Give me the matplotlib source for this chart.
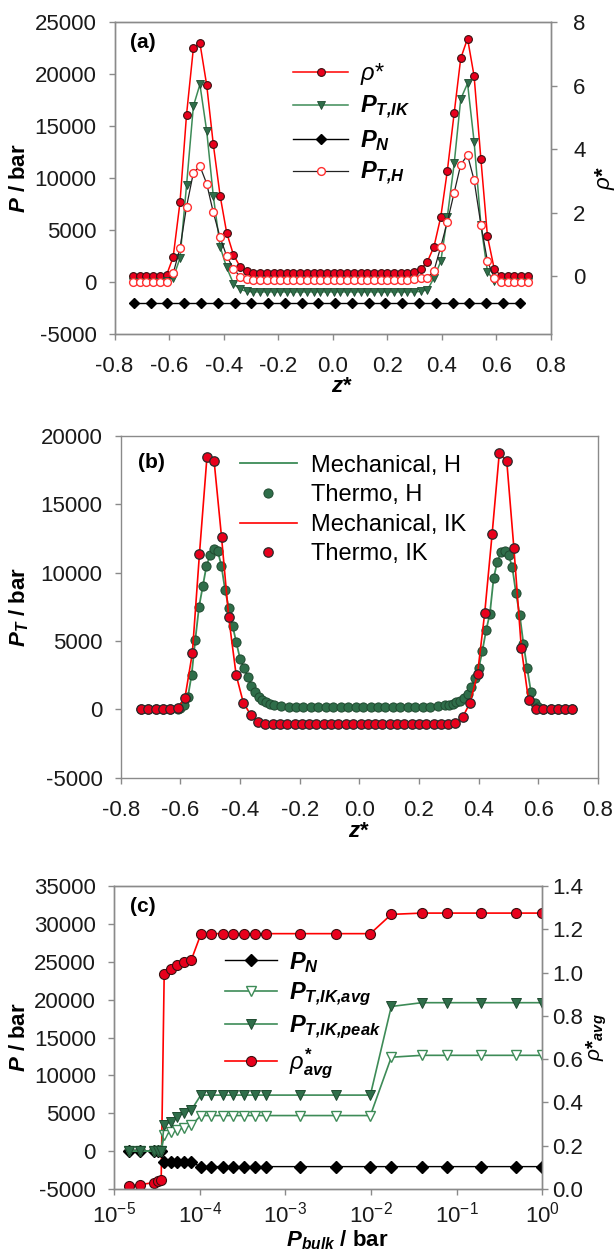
import matplotlib
matplotlib.use("Agg")
import matplotlib.pyplot as plt
from matplotlib.ticker import FixedLocator, FormatStrFormatter, NullLocator

plt.rcParams['font.family'] = ['Liberation Sans', 'DejaVu Sans']
plt.rcParams['axes.unicode_minus'] = False
plt.rcParams['mathtext.fontset'] = 'custom'
plt.rcParams['mathtext.rm'] = 'Liberation Sans'
plt.rcParams['mathtext.it'] = 'Liberation Sans:italic'
plt.rcParams['mathtext.bf'] = 'Liberation Sans:bold'
plt.rcParams['mathtext.bfit'] = 'Liberation Sans:italic:bold'
plt.rcParams['mathtext.sf'] = 'Liberation Sans'

# ---- panel (a) data: profiles across the slit ----
z_grid = [-0.732, -0.707, -0.683, -0.658, -0.634, -0.609, -0.585, -0.560, -0.536, -0.511,
          -0.487, -0.462, -0.438, -0.413, -0.389, -0.364, -0.340, -0.315, -0.291, -0.266,
          -0.242, -0.217, -0.193, -0.168, -0.144, -0.119, -0.095, -0.070, -0.046, -0.021,
          0.004, 0.028, 0.053, 0.077, 0.102, 0.126, 0.151, 0.175, 0.200, 0.224,
          0.249, 0.273, 0.298, 0.322, 0.347, 0.371, 0.396, 0.420, 0.445, 0.469,
          0.494, 0.518, 0.543, 0.567, 0.592, 0.616, 0.641, 0.665, 0.690, 0.714]

rho_a = [0.02, 0.02, 0.02, 0.02, 0.02, 0.05, 0.61, 2.33, 5.09, 7.17,
         7.34, 6.01, 4.16, 2.54, 1.38, 0.68, 0.31, 0.18, 0.12, 0.10,
         0.10, 0.10, 0.10, 0.10, 0.10, 0.10, 0.10, 0.10, 0.10, 0.10,
         0.10, 0.10, 0.10, 0.10, 0.10, 0.10, 0.10, 0.10, 0.10, 0.10,
         0.10, 0.11, 0.15, 0.22, 0.47, 0.94, 1.88, 3.33, 5.14, 6.86,
         7.48, 6.30, 3.68, 1.26, 0.23, 0.03, 0.02, 0.02, 0.02, 0.02]

pt_ik_a = [0, 0, 0, 0, 0, 100, 400, 2300, 9300, 16900,
           19000, 14500, 8300, 3400, 1400, -150, -700, -900, -950, -950,
           -950, -950, -950, -950, -950, -950, -950, -950, -950, -950,
           -950, -950, -950, -950, -950, -950, -950, -950, -950, -950,
           -950, -950, -950, -900, -750, 400, 2000, 6300, 11400, 17600,
           19100, 13500, 5500, 1000, 100, 0, 0, 0, 0, 0]

pt_h_a = [0, 0, 0, 0, 0, 50, 830, 3250, 7250, 10500,
          11150, 9450, 6700, 4300, 2500, 1300, 500, 250, 200, 200,
          200, 200, 200, 200, 200, 200, 200, 200, 200, 200,
          200, 200, 200, 200, 200, 200, 200, 200, 200, 200,
          200, 200, 250, 400, 400, 1100, 3400, 5800, 8600, 11300,
          12200, 9800, 5500, 2000, 400, 0, 0, 0, 0, 0]

z_n = [-0.729, -0.668, -0.606, -0.545, -0.483, -0.422, -0.360, -0.299, -0.237, -0.176,
       -0.114, -0.053, 0.009, 0.070, 0.132, 0.193, 0.255, 0.316, 0.378, 0.439,
       0.501, 0.562, 0.624, 0.685]
pn_a = [-2050, -2050, -2050, -2050, -2050, -2050, -2050, -2050, -2050, -2050,
        -2050, -2050, -2050, -2050, -2050, -2050, -2050, -2050, -2050, -2050,
        -2050, -2050, -2050, -2050]

# ---- panel (b) data: mechanical vs thermodynamic route ----
ik_b = [0, 0, 0, 0, 0, 80, 810, 4100, 11400, 18440,
        18170, 12590, 6730, 2510, 490, -410, -900, -1070, -1100, -1100,
        -1100, -1100, -1100, -1100, -1100, -1100, -1100, -1100, -1100, -1100,
        -1100, -1100, -1100, -1100, -1100, -1100, -1100, -1100, -1100, -1100,
        -1100, -1100, -1100, -1000, -540, 490, 2590, 7020, 12830, 18730,
        18170, 11780, 4460, 680, 0, 0, 0, 0, 0, 0]

z_h = [-0.732, -0.707, -0.683, -0.658, -0.634, -0.609,
       -0.6000, -0.5875, -0.5750, -0.5625, -0.5500, -0.5375, -0.5250, -0.5125, -0.5000, -0.4875,
       -0.4750, -0.4625, -0.4500, -0.4375, -0.4250, -0.4125, -0.4000, -0.3875, -0.3750, -0.3625,
       -0.3500, -0.3375, -0.3250, -0.3125, -0.3000, -0.2875,
       -0.2625, -0.2375, -0.2125, -0.1875, -0.1625, -0.1375, -0.1125, -0.0875, -0.0625, -0.0375,
       -0.0125, 0.0125, 0.0375, 0.0625, 0.0875, 0.1125, 0.1375, 0.1625, 0.1875, 0.2125,
       0.2375, 0.2625,
       0.2875, 0.3000, 0.3125, 0.3250, 0.3375, 0.3500, 0.3625, 0.3750, 0.3875, 0.4000,
       0.4125, 0.4250, 0.4375, 0.4500, 0.4625, 0.4750, 0.4875, 0.5000, 0.5125, 0.5250,
       0.5375, 0.5500, 0.5625, 0.5750, 0.5875, 0.6000,
       0.616, 0.641, 0.665, 0.690, 0.714]
h_b = [0, 0, 0, 0, 0, 0,
       100, 350, 900, 2500, 5100, 7500, 9000, 10500, 11300, 11700,
       11600, 10500, 8700, 7400, 6100, 4900, 3700, 3000, 2400, 1700,
       1250, 900, 700, 520, 400, 320,
       260, 210, 180, 160, 150, 150, 150, 150, 150, 150,
       150, 150, 150, 150, 150, 150, 150, 150, 160, 180,
       210, 260,
       300, 350, 420, 520, 600, 800, 1150, 1650, 2300, 3000,
       4300, 5800, 7000, 9600, 10800, 11500, 11550, 11300, 10400, 8500,
       6900, 4800, 3000, 1300, 500, 150,
       0, 0, 0, 0, 0]

# ---- panel (c) data: vs bulk pressure ----
p_bulk = [1.5e-5, 2.0e-5, 2.95e-5, 3.25e-5, 3.55e-5, 3.85e-5, 4.6e-5, 5.5e-5, 6.5e-5, 8.0e-5,
          1.03e-4, 1.37e-4, 1.85e-4, 2.47e-4, 3.3e-4, 4.4e-4, 5.9e-4, 1.47e-3, 3.9e-3, 9.8e-3,
          1.72e-2, 3.9e-2, 7.6e-2, 0.19, 0.49, 1.0]
pn_c = [0, 0, 0, 0, 0, -1450, -1460, -1470, -1470, -1480,
        -2040, -2040, -2040, -2040, -2040, -2040, -2040, -2040, -2040, -2040,
        -2040, -2040, -2040, -2040, -2040, -2040]
pavg_c = [0, 0, 0, 0, 0, 2100, 2500, 2800, 3100, 3400,
          4700, 4700, 4700, 4700, 4700, 4700, 4700, 4700, 4700, 4700,
          12400, 12650, 12650, 12650, 12650, 12650]
ppeak_c = [0, 0, 0, 0, 0, 3450, 3900, 4550, 5050, 5450,
           7400, 7400, 7400, 7400, 7400, 7400, 7400, 7400, 7400, 7400,
           19100, 19600, 19600, 19600, 19600, 19600]
rho_c = [0.015, 0.02, 0.03, 0.035, 0.04, 0.995, 1.015, 1.034, 1.049, 1.06,
         1.177, 1.18, 1.18, 1.18, 1.18, 1.18, 1.18, 1.18, 1.18, 1.18,
         1.269, 1.275, 1.275, 1.275, 1.275, 1.275]

RED = '#ff0000'
RED_FACE = '#e8001c'
GREEN_LINE = '#3d8b57'
GREEN_FACE = '#2f6e4a'
GREEN_EDGE = '#1f4a30'
SPINE = '#8a8a8a'
TICKFS = 16


def style(ax, right_ticks=False):
    for s in ax.spines.values():
        s.set_color(SPINE)
        s.set_linewidth(1.0)
    ax.tick_params(axis='both', direction='out', length=4, width=1, color=SPINE,
                   labelsize=TICKFS, labelcolor='#1a1a1a', pad=9)
    ax.tick_params(axis='x', pad=12)
    ax.tick_params(top=False, right=right_ticks)


fig = plt.figure(figsize=(6.15, 12.52), dpi=100)

# ================= (a) =================
ax = fig.add_axes([0.1862, 0.7332, 0.7098, 0.2492])
ax2 = ax.twinx()
ax.set_zorder(ax2.get_zorder() + 1)
ax.patch.set_visible(False)

h_rho, = ax2.plot(z_grid, rho_a, '-o', color=RED, lw=1.1, ms=5.6,
                  mfc=RED_FACE, mec='#3a1010', mew=0.8, label=r'$\rho$*')
h_ik, = ax.plot(z_grid, pt_ik_a, '-v', color=GREEN_LINE, lw=1.1, ms=5.8,
                mfc=GREEN_FACE, mec=GREEN_EDGE, mew=0.6, label=r'$\mathbfit{P}_{\mathbfit{T{,}IK}}$')
h_n, = ax.plot(z_n, pn_a, '-D', color='black', lw=1.0, ms=5.2,
               mfc='black', mec='black', label=r'$\mathbfit{P}_{\mathbfit{N}}$')
h_h, = ax.plot(z_grid, pt_h_a, '-o', color='#222222', lw=0.9, ms=5.6,
               mfc='white', mec='#ff3030', mew=1.0, label=r'$\mathbfit{P}_{\mathbfit{T{,}H}}$')

ax.set_xlim(-0.8, 0.8)
ax.set_ylim(-5000, 25000)
ax2.set_ylim(-1.81, 8)
ax.xaxis.set_major_locator(FixedLocator([-0.8, -0.6, -0.4, -0.2, 0.0, 0.2, 0.4, 0.6, 0.8]))
ax.xaxis.set_major_formatter(FormatStrFormatter('%.1f'))
ax.yaxis.set_major_locator(FixedLocator([-5000, 0, 5000, 10000, 15000, 20000, 25000]))
ax2.yaxis.set_major_locator(FixedLocator([0, 2, 4, 6, 8]))
style(ax)
style(ax2, right_ticks=True)
ax2.tick_params(left=False, pad=12)

ax.set_ylabel(r'$\mathbfit{P}$ / bar', fontsize=16, fontweight='bold')
ax.yaxis.set_label_coords(-0.194, 0.5)
ax.set_xlabel(r'$\mathbfit{z}$*', fontsize=16, fontweight='bold')
ax.xaxis.set_label_coords(0.52, -0.135)
ax2.set_ylabel(r'$\rho$*', fontsize=16, fontweight='bold', rotation=90)
ax2.yaxis.set_label_coords(1.095, 0.5)
ax.text(0.036, 0.933, '(a)', transform=ax.transAxes, fontsize=15, fontweight='bold',
        ha='left', va='center')
ax.legend(handles=[h_rho, h_ik, h_n, h_h], loc='upper left', bbox_to_anchor=(0.41, 0.875),
          frameon=False, fontsize=17, handlelength=2.3, handletextpad=0.5,
          labelspacing=0.3, borderpad=0, borderaxespad=0)

# ================= (b) =================
bx = fig.add_axes([0.1963, 0.3788, 0.7761, 0.2730])
l_mh, = bx.plot(z_h, h_b, '-', color=GREEN_LINE, lw=1.3, label='Mechanical, H')
p_th, = bx.plot(z_h, h_b, 'o', ms=6.6, mfc=GREEN_FACE, mec=GREEN_EDGE, mew=0.7,
                label='Thermo, H')
l_mik, = bx.plot(z_grid, ik_b, '-', color=RED, lw=1.2, label='Mechanical, IK')
p_tik, = bx.plot(z_grid, ik_b, 'o', ms=6.8, mfc=RED_FACE, mec='#2a2a2a', mew=0.9,
                 label='Thermo, IK')
bx.set_xlim(-0.8, 0.8)
bx.set_ylim(-5000, 20000)
bx.xaxis.set_major_locator(FixedLocator([-0.8, -0.6, -0.4, -0.2, 0.0, 0.2, 0.4, 0.6, 0.8]))
bx.xaxis.set_major_formatter(FormatStrFormatter('%.1f'))
bx.yaxis.set_major_locator(FixedLocator([-5000, 0, 5000, 10000, 15000, 20000]))
style(bx)
bx.set_ylabel(r'$\mathbfit{P}_{\mathbfit{T}}$ / bar', fontsize=16, fontweight='bold')
bx.yaxis.set_label_coords(-0.188, 0.5)
bx.set_xlabel(r'$\mathbfit{z}$*', fontsize=16, fontweight='bold')
bx.xaxis.set_label_coords(0.5, -0.128)
bx.text(0.036, 0.921, '(b)', transform=bx.transAxes, fontsize=15, fontweight='bold',
        ha='left', va='center')
bx.legend(handles=[l_mh, p_th, l_mik, p_tik], loc='upper left', bbox_to_anchor=(0.25, 0.945),
          frameon=False, fontsize=17, handlelength=2.4, handletextpad=0.6,
          labelspacing=0.32, borderpad=0, borderaxespad=0)

# ================= (c) =================
cx = fig.add_axes([0.1854, 0.0503, 0.6967, 0.2420])
cx2 = cx.twinx()
cx.set_zorder(cx2.get_zorder() + 1)
cx.patch.set_visible(False)

c_rho, = cx2.plot(p_bulk, rho_c, '-o', color=RED, lw=1.2, ms=7.2, mfc=RED_FACE,
                  mec='#3a1010', mew=0.8, label=r'$\rho^{\mathbf{*}}_{\mathbfit{avg}}$')
c_pn, = cx.plot(p_bulk, pn_c, '-D', color='black', lw=1.0, ms=6.0, mfc='black',
                mec='black', label=r'$\mathbfit{P}_{\mathbfit{N}}$')
c_avg, = cx.plot(p_bulk, pavg_c, '-v', color=GREEN_LINE, lw=1.2, ms=7.5, mfc='white',
                 mec=GREEN_LINE, mew=1.0, label=r'$\mathbfit{P}_{\mathbfit{T{,}IK{,}avg}}$')
c_peak, = cx.plot(p_bulk, ppeak_c, '-v', color=GREEN_LINE, lw=1.2, ms=7.5, mfc=GREEN_FACE,
                  mec=GREEN_EDGE, mew=0.7, label=r'$\mathbfit{P}_{\mathbfit{T{,}IK{,}peak}}$')
cx.set_xscale('log')
cx.set_xlim(1e-5, 1)
cx.set_ylim(-5000, 35000)
cx2.set_ylim(0, 1.4)
cx.xaxis.set_major_locator(FixedLocator([1e-5, 1e-4, 1e-3, 1e-2, 1e-1, 1]))
cx.xaxis.set_minor_locator(NullLocator())
cx.set_xticklabels([r'$\mathregular{10^{-5}}$', r'$\mathregular{10^{-4}}$', r'$\mathregular{10^{-3}}$',
                    r'$\mathregular{10^{-2}}$', r'$\mathregular{10^{-1}}$', r'$\mathregular{10^{0}}$'])
cx.yaxis.set_major_locator(FixedLocator([-5000, 0, 5000, 10000, 15000, 20000, 25000, 30000, 35000]))
cx2.yaxis.set_major_locator(FixedLocator([0.0, 0.2, 0.4, 0.6, 0.8, 1.0, 1.2, 1.4]))
cx2.yaxis.set_major_formatter(FormatStrFormatter('%.1f'))
style(cx)
style(cx2, right_ticks=True)
cx2.tick_params(left=False, pad=3)
cx.tick_params(axis='x', pad=5)

cx.set_ylabel(r'$\mathbfit{P}$ / bar', fontsize=16, fontweight='bold')
cx.yaxis.set_label_coords(-0.196, 0.5)
cx.set_xlabel(r'$\mathbfit{P}_{\mathbfit{bulk}}$ / bar', fontsize=16, fontweight='bold')
cx.xaxis.set_label_coords(0.52, -0.13)
cx2.set_ylabel(r'$\rho$*$_{\mathbfit{avg}}$', fontsize=15, fontweight='bold', rotation=90)
cx2.yaxis.set_label_coords(1.098, 0.5)
cx.text(0.037, 0.934, '(c)', transform=cx.transAxes, fontsize=15, fontweight='bold',
        ha='left', va='center')
cx.legend(handles=[c_pn, c_avg, c_peak, c_rho], loc='upper left', bbox_to_anchor=(0.26, 0.79),
          frameon=False, fontsize=17, handlelength=2.2, handletextpad=0.5,
          labelspacing=0.25, borderpad=0, borderaxespad=0)

fig.savefig('out.png', dpi=100, facecolor='white')
